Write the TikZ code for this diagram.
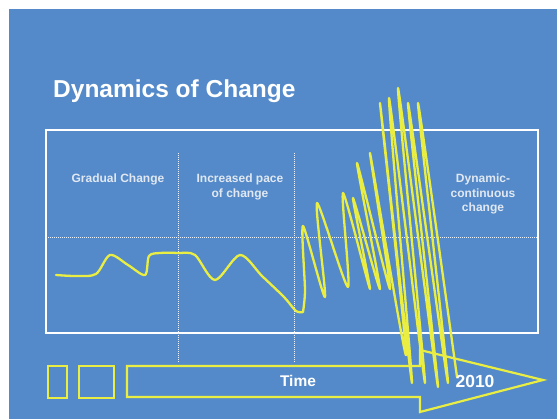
\documentclass[tikz,border=0pt]{standalone}
\usepackage{fontspec}
\setmainfont{Liberation Sans}
\definecolor{bgblue}{RGB}{84,138,201}
\definecolor{ylw}{RGB}{234,238,66}
\definecolor{lbl}{RGB}{225,232,242}
\begin{document}
\begin{tikzpicture}[x=1pt,y=-1pt,
  frame/.style={draw=white, line width=1.3pt},
  dotline/.style={draw=white!90!bgblue, line width=1pt, dash pattern=on 1pt off 1pt},
  ybox/.style={draw=ylw, line width=2.2pt, line join=miter},
  wave/.style={draw=ylw, line width=2.3pt, line join=round, line cap=round},
  lbltext/.style={text=lbl, font=\fontsize{12}{14.5}\selectfont\bfseries, align=center, inner sep=0pt, anchor=north},
  bigtext/.style={text=white, inner sep=0pt, anchor=base}
]
\useasboundingbox (0,0) rectangle (557,419);
\fill[white] (0,0) rectangle (557,419);
\fill[bgblue] (9,9) rectangle (557,419);
\node[bigtext, anchor=base west, font=\fontsize{24.5}{28}\selectfont\bfseries] (title) at (53,98) {Dynamics of Change};
\draw[frame] (46,130) rectangle (538,333);
\draw[dotline] (46,238) -- (538,238);
\draw[dotline] (178,153) -- (178,362);
\draw[dotline] (294,153) -- (294,362);
\node[lbltext] (grad) at (118,174) {Gradual Change};
\node[lbltext] (incr) at (240,174) {Increased pace\\of change};
\node[lbltext] (dyn) at (483,174) {Dynamic-\\continuous\\change};
\draw[ybox] (48,366) rectangle (67,398);
\draw[ybox] (79,366) rectangle (114,398);
\draw[ybox] (127,366) -- (420,366) -- (420,350) -- (543,380) -- (420,412) -- (420,397) -- (127,397) -- cycle;
\draw[wave] plot[smooth, tension=0.5] coordinates {(56,275) (76,276) (96,274) (110,255) (128,265) (145,275) (149,256) (160,253) (178,253) (195,255) (215,280) (240,255) (262,276) (284,297) (296,311) (303,312)} -- plot[smooth, tension=0.4] coordinates {(303,312) (305,290) (303,226) (325,297) (317,203) (348,287) (343,193) (370,289) (353,198) (380,289) (357,163) (390,289) (370,153) (406,355) (380,103) (412,383) (389,98) (425,383) (398,88) (438,387) (408,103) (448,383) (418,103) (457,377)};
\node[bigtext, font=\fontsize{15.5}{18}\selectfont\bfseries] (time) at (298,387) {Time};
\node[bigtext, font=\fontsize{17.5}{20}\selectfont\bfseries] (year) at (475,388) {2010};
\end{tikzpicture}
\end{document}
